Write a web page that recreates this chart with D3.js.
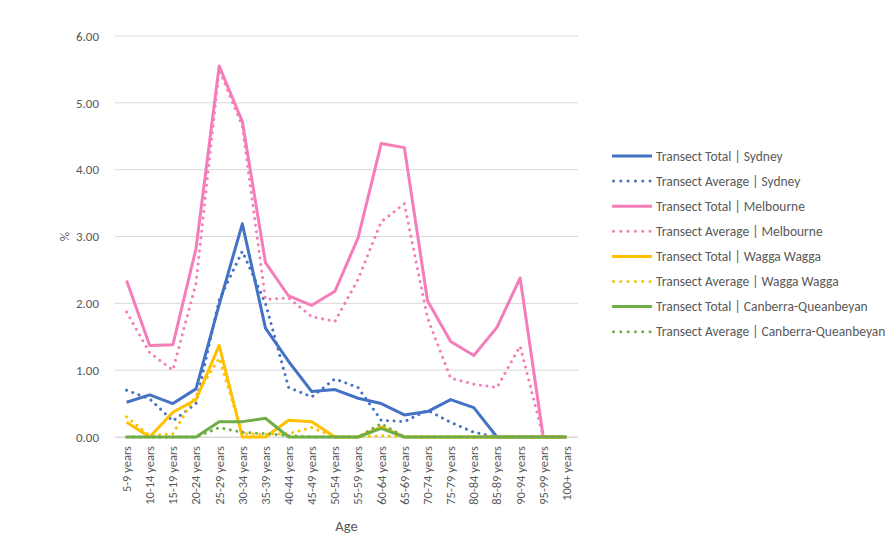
<!DOCTYPE html>
<html>
<head>
<meta charset="utf-8">
<script src="https://cdn.jsdelivr.net/npm/d3@7"></script>
<style>
  html, body { margin: 0; padding: 0; background: #fff; }
  svg { display: block; font-family: Carlito, Calibri, Lato, "Noto Sans", sans-serif; }
</style>
</head>
<body>
<svg id="chart" width="893" height="540"></svg>
<script>
// Age groups along the x axis
const ages = ["5-9 years", "10-14 years", "15-19 years", "20-24 years", "25-29 years",
  "30-34 years", "35-39 years", "40-44 years", "45-49 years", "50-54 years",
  "55-59 years", "60-64 years", "65-69 years", "70-74 years", "75-79 years",
  "80-84 years", "85-89 years", "90-94 years", "95-99 years", "100+ years"];

// Share of population (%) per age group
const sydneyTotal = [0.52, 0.63, 0.50, 0.72, 1.98, 3.19, 1.63, 1.13, 0.68, 0.71, 0.58, 0.50, 0.33, 0.38, 0.56, 0.44, 0, 0, 0, 0];
const sydneyAvg   = [0.70, 0.57, 0.24, 0.50, 2.05, 2.78, 2.00, 0.74, 0.60, 0.87, 0.74, 0.25, 0.23, 0.40, 0.22, 0.07, 0, 0, 0, 0];
const melbourneTotal = [2.34, 1.37, 1.38, 2.82, 5.55, 4.72, 2.61, 2.11, 1.97, 2.18, 2.98, 4.39, 4.33, 2.04, 1.43, 1.22, 1.64, 2.38, 0, 0];
const melbourneAvg   = [1.87, 1.26, 1.00, 2.30, 5.50, 4.65, 2.06, 2.08, 1.80, 1.73, 2.36, 3.22, 3.49, 1.78, 0.88, 0.79, 0.74, 1.36, 0, 0];
const waggaTotal = [0.22, 0, 0.37, 0.56, 1.37, 0, 0, 0.25, 0.23, 0, 0, 0.15, 0, 0, 0, 0, 0, 0, 0, 0];
const waggaAvg   = [0.30, 0.02, 0.05, 0.62, 1.18, 0.05, 0.04, 0.05, 0.14, 0, 0, 0.02, 0, 0, 0, 0, 0, 0, 0, 0];
const canberraTotal = [0, 0, 0, 0, 0.23, 0.23, 0.28, 0, 0, 0, 0, 0.13, 0, 0, 0, 0, 0, 0, 0, 0];
const canberraAvg   = [0, 0, 0, 0, 0.14, 0.07, 0.05, 0.02, 0, 0, 0, 0.20, 0, 0, 0, 0, 0, 0, 0, 0];

const yTicks = [0, 1, 2, 3, 4, 5, 6];

const series = [
  { name: "Transect Total | Sydney", values: sydneyTotal, color: "#4472C4", dotted: false },
  { name: "Transect Average | Sydney", values: sydneyAvg, color: "#4472C4", dotted: true },
  { name: "Transect Total | Melbourne", values: melbourneTotal, color: "#F47DBA", dotted: false },
  { name: "Transect Average | Melbourne", values: melbourneAvg, color: "#F47DBA", dotted: true },
  { name: "Transect Total | Wagga Wagga", values: waggaTotal, color: "#FFC000", dotted: false },
  { name: "Transect Average | Wagga Wagga", values: waggaAvg, color: "#FFC000", dotted: true },
  { name: "Transect Total | Canberra-Queanbeyan", values: canberraTotal, color: "#70AD47", dotted: false },
  { name: "Transect Average | Canberra-Queanbeyan", values: canberraAvg, color: "#70AD47", dotted: true }
];

const svg = d3.select("#chart");
const plot = { left: 115, right: 578, top: 36, bottom: 437 };
const textColor = "#595959";

const x = d3.scaleBand().domain(ages).range([plot.left, plot.right]);
const y = d3.scaleLinear().domain([0, 6]).range([plot.bottom, plot.top]);
const cx = d => x(d) + x.bandwidth() / 2;

// Horizontal gridlines
svg.append("g")
  .selectAll("line")
  .data(yTicks)
  .join("line")
  .attr("x1", plot.left).attr("x2", plot.right)
  .attr("y1", d => y(d)).attr("y2", d => y(d))
  .attr("stroke", "#D9D9D9").attr("stroke-width", 1);

// Y axis labels
const yAxis = svg.append("g")
  .attr("transform", `translate(${plot.left - 13},0)`)
  .call(d3.axisLeft(y).tickValues(yTicks).tickFormat(d3.format(".2f")).tickSize(0));
yAxis.select(".domain").remove();
yAxis.selectAll("text")
  .attr("fill", textColor).attr("font-size", 13)
  .style("font-family", "Carlito, Calibri, Lato, sans-serif");

// X axis labels, rotated
const xAxis = svg.append("g")
  .attr("transform", `translate(0,${plot.bottom})`)
  .call(d3.axisBottom(x).tickSize(0));
xAxis.select(".domain").attr("stroke", "#D9D9D9");
xAxis.selectAll("text")
  .attr("fill", textColor).attr("font-size", 12.5)
  .style("font-family", "Carlito, Calibri, Lato, sans-serif")
  .attr("text-anchor", "end")
  .attr("transform", "rotate(-90)")
  .attr("x", -9).attr("y", 0).attr("dy", "0.35em");

// Axis titles
svg.append("text")
  .attr("x", (plot.left + plot.right) / 2).attr("y", 531)
  .attr("text-anchor", "middle")
  .attr("fill", textColor).attr("font-size", 14.5)
  .text("Age");
svg.append("text")
  .attr("transform", `translate(69,${(plot.top + plot.bottom) / 2}) rotate(-90)`)
  .attr("text-anchor", "middle")
  .attr("fill", textColor).attr("font-size", 13)
  .text("%");

// Series lines
const line = d3.line()
  .x((d, i) => cx(ages[i]))
  .y(d => y(d));

svg.append("g")
  .selectAll("path")
  .data(series)
  .join("path")
  .attr("d", d => line(d.values))
  .attr("fill", "none")
  .attr("stroke", d => d.color)
  .attr("stroke-width", 3)
  .attr("stroke-linejoin", "round")
  .attr("stroke-linecap", d => d.dotted ? "round" : "butt")
  .attr("stroke-dasharray", d => d.dotted ? "0.01 6.6" : null);

// Legend
const legend = svg.append("g");
const rows = legend.selectAll("g")
  .data(series)
  .join("g")
  .attr("transform", (d, i) => `translate(612,${156 + i * 25.1})`);
rows.append("line")
  .attr("x1", d => d.dotted ? 1.5 : 0).attr("x2", 40)
  .attr("stroke", d => d.color)
  .attr("stroke-width", 3)
  .attr("stroke-linecap", d => d.dotted ? "round" : "butt")
  .attr("stroke-dasharray", d => d.dotted ? "0.01 7.3" : null);
rows.append("text")
  .attr("x", 44).attr("dy", "0.35em")
  .attr("fill", textColor).attr("font-size", 13.5)
  .text(d => d.name);
</script>
</body>
</html>
